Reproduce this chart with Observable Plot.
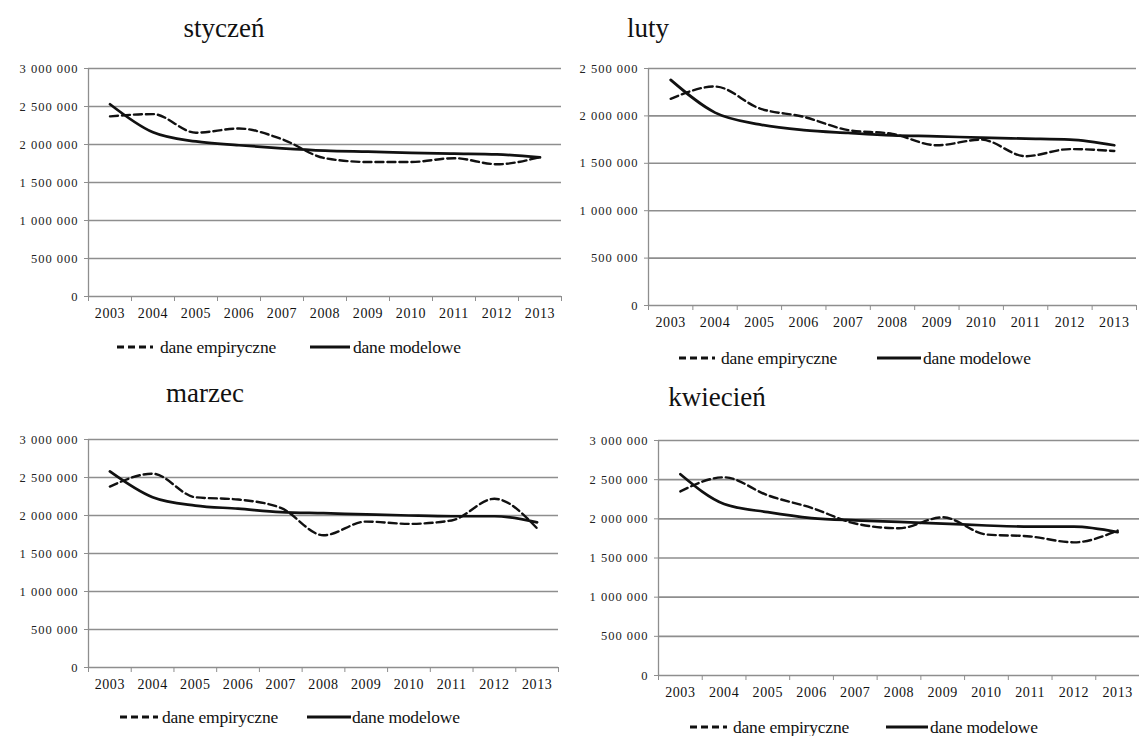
<!DOCTYPE html>
<html>
<head>
<meta charset="utf-8">
<script src="https://cdn.jsdelivr.net/npm/d3@7"></script>
<script src="https://cdn.jsdelivr.net/npm/@observablehq/plot@0.6"></script>
<style>
  html, body { margin: 0; padding: 0; background: #fff; }
  #root { position: relative; width: 1139px; height: 736px; background: #fff; font-family: "Liberation Serif", "Times New Roman", serif; color: #111; overflow: hidden; }
  .panel { position: absolute; }
  .panel svg g[aria-label="y-axis tick label"] text { letter-spacing: 1px; }
  .panel svg g[aria-label="x-axis tick label"] text { letter-spacing: 0.6px; }
  .title { position: absolute; font-size: 27px; transform: translate(-50%, -50%); white-space: nowrap; }
  .legend { position: absolute; font-size: 17.5px; white-space: nowrap; letter-spacing: -0.2px; }
  .legend svg { position: absolute; }
  .legend span { position: absolute; transform: translateY(-50%); }
</style>
</head>
<body>
<div id="root"></div>
<script>
// ---------- data ----------
const years = [2003, 2004, 2005, 2006, 2007, 2008, 2009, 2010, 2011, 2012, 2013];
const seriesNames = ["dane empiryczne", "dane modelowe"];
const monthNames = ["styczeń", "luty", "marzec", "kwiecień"];

const styczenEmp = [2370000, 2400000, 2155000, 2210000, 2070000, 1820000, 1770000, 1770000, 1820000, 1740000, 1835000];
const styczenMod = [2530000, 2160000, 2040000, 1990000, 1950000, 1920000, 1905000, 1890000, 1880000, 1870000, 1830000];

const lutyEmp = [2180000, 2310000, 2080000, 1990000, 1850000, 1810000, 1690000, 1750000, 1575000, 1650000, 1630000];
const lutyMod = [2380000, 2035000, 1910000, 1850000, 1820000, 1795000, 1785000, 1770000, 1760000, 1750000, 1690000];

const marzecEmp = [2380000, 2550000, 2240000, 2210000, 2100000, 1740000, 1920000, 1890000, 1935000, 2220000, 1830000];
const marzecMod = [2580000, 2240000, 2130000, 2090000, 2045000, 2030000, 2015000, 2000000, 1990000, 1990000, 1910000];

const kwiecienEmp = [2350000, 2530000, 2300000, 2140000, 1940000, 1880000, 2020000, 1800000, 1775000, 1700000, 1850000];
const kwiecienMod = [2570000, 2190000, 2085000, 2010000, 1980000, 1960000, 1940000, 1915000, 1900000, 1900000, 1830000];

const yTicks3M = [0, 500000, 1000000, 1500000, 2000000, 2500000, 3000000];
const yTicks25M = [0, 500000, 1000000, 1500000, 2000000, 2500000];

// ---------- layout ----------
const panels = [
  { title: monthNames[0], emp: styczenEmp, mod: styczenMod, yTicks: yTicks3M,
    left: 0, top: 50, width: 570, height: 280, mt: 18, mb: 34, ml: 88, mr: 9,
    tx: 224, ty: 28, legY: 347, leg: [117, 153, 160, 310, 350, 353] },
  { title: monthNames[1], emp: lutyEmp, mod: lutyMod, yTicks: yTicks25M,
    left: 570, top: 50, width: 569, height: 290, mt: 18, mb: 35, ml: 78, mr: 3,
    tx: 648, ty: 28, legY: 358, leg: [679, 715, 721, 877, 921, 923] },
  { title: monthNames[2], emp: marzecEmp, mod: marzecMod, yTicks: yTicks3M,
    left: 0, top: 420, width: 570, height: 280, mt: 19, mb: 33, ml: 88, mr: 12,
    tx: 205, ty: 393, legY: 717, leg: [120, 158, 162, 307, 351, 352] },
  { title: monthNames[3], emp: kwiecienEmp, mod: kwiecienMod, yTicks: yTicks3M,
    left: 570, top: 420, width: 569, height: 290, mt: 20, mb: 35, ml: 88, mr: 0,
    tx: 717, ty: 397, legY: 727, leg: [690, 727, 733, 886, 928, 930] }
];

const fmt = d => d3.format(",")(d).replace(/,/g, " ");
const root = document.getElementById("root");
const gridColor = "#8e8e8e";
const serif = "'Liberation Serif', 'Times New Roman', serif";

for (const p of panels) {
  const data = years.map((y, i) => ({ year: y, emp: p.emp[i], mod: p.mod[i] }));
  const bounds = years.map(y => y - 0.5).concat([years[years.length - 1] + 0.5]);
  const chart = Plot.plot({
    width: p.width, height: p.height,
    marginTop: p.mt, marginBottom: p.mb, marginLeft: p.ml, marginRight: p.mr,
    x: { type: "linear", domain: [bounds[0], bounds[bounds.length - 1]], label: null },
    y: { domain: [0, p.yTicks[p.yTicks.length - 1]], label: null },
    style: { fontFamily: serif, fontSize: "13px", background: "transparent", overflow: "visible", color: "#111" },
    marks: [
      Plot.gridY(p.yTicks, { stroke: gridColor, strokeOpacity: 1, strokeWidth: 1.6 }),
      Plot.ruleX([bounds[0]], { stroke: gridColor, strokeWidth: 1.3 }),
      Plot.axisY(p.yTicks, { tickSize: 4, tickPadding: 6, tickFormat: fmt, stroke: gridColor, fill: "#222", label: null, fontFamily: serif, fontSize: 12.5 }),
      Plot.axisX(bounds, { tickSize: 5, tickFormat: () => "", stroke: gridColor, label: null }),
      Plot.axisX(years, { tickSize: 0, tickPadding: 12, tickFormat: d => String(d), fill: "#111", label: null, fontFamily: serif, fontSize: 14 }),
      Plot.line(data, { x: "year", y: "emp", stroke: "#111", strokeWidth: 2.4, strokeDasharray: "8,4", curve: "monotone-x" }),
      Plot.line(data, { x: "year", y: "mod", stroke: "#111", strokeWidth: 2.7, curve: "monotone-x" })
    ]
  });
  const wrap = document.createElement("div");
  wrap.className = "panel";
  wrap.style.left = p.left + "px";
  wrap.style.top = p.top + "px";
  wrap.appendChild(chart);
  root.appendChild(wrap);

  const t = document.createElement("div");
  t.className = "title";
  t.style.left = p.tx + "px";
  t.style.top = p.ty + "px";
  t.textContent = p.title;
  root.appendChild(t);

  // legend
  const lg = document.createElement("div");
  lg.className = "legend";
  lg.style.left = "0px";
  lg.style.top = p.legY + "px";
  const [d1, d2, t1, s1, s2, t2] = p.leg;
  lg.innerHTML =
    `<svg style="left:${d1}px;top:-4px" width="${d2 - d1}" height="8"><line x1="0" y1="4" x2="${d2 - d1}" y2="4" stroke="#111" stroke-width="3" stroke-dasharray="7,4"/></svg>` +
    `<span style="left:${t1}px">${seriesNames[0]}</span>` +
    `<svg style="left:${s1}px;top:-4px" width="${s2 - s1}" height="8"><line x1="0" y1="4" x2="${s2 - s1}" y2="4" stroke="#111" stroke-width="3"/></svg>` +
    `<span style="left:${t2}px">${seriesNames[1]}</span>`;
  root.appendChild(lg);
}
</script>
</body>
</html>
